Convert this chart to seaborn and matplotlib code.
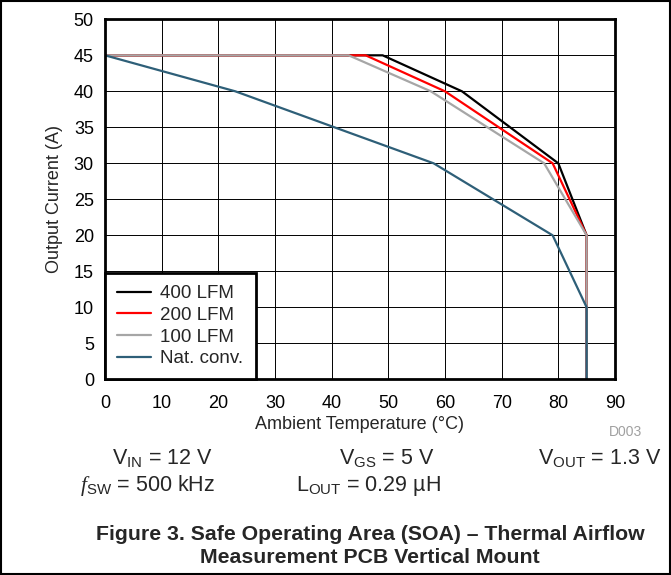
import pandas as pd
import matplotlib
matplotlib.use("Agg")
import matplotlib.pyplot as plt
import seaborn as sns
from matplotlib.patches import Rectangle

# Data
temp_400 = [0, 49, 63, 80, 85, 85]
curr_400 = [45, 45, 40, 30, 20, 0]
temp_200 = [0, 46, 60, 79, 85, 85]
curr_200 = [45, 45, 40, 30, 20, 0]
temp_100 = [0, 43, 57.5, 77.5, 85, 85]
curr_100 = [45, 45, 40, 30, 20, 0]
temp_nat = [0, 23, 58, 79, 85, 85]
curr_nat = [45, 40, 30, 20, 10, 0]

series = ["400 LFM", "200 LFM", "100 LFM", "Nat. conv."]
colors = ["#000000", "#ff0000", "#a6a6a6", "#2e5f78"]

frames = []
for name, t, c in zip(series, [temp_400, temp_200, temp_100, temp_nat],
                      [curr_400, curr_200, curr_100, curr_nat]):
    frames.append(pd.DataFrame({"temp": t, "current": c, "airflow": name}))
df = pd.concat(frames, ignore_index=True)

sns.set_theme(style="white")
plt.rcParams['font.family'] = ['Liberation Sans', 'DejaVu Sans']
plt.rcParams['mathtext.fontset'] = 'custom'
plt.rcParams['mathtext.rm'] = 'Liberation Sans'
plt.rcParams['mathtext.it'] = 'Liberation Serif:italic'

fig = plt.figure(figsize=(6.71, 5.75), dpi=100)
ax = fig.add_axes([0.1565, 0.3403, 0.76, 0.6261])

sns.lineplot(data=df, x="temp", y="current", hue="airflow", hue_order=series,
             palette=colors, sort=False, estimator=None, linewidth=1.6, ax=ax)

ax.set_xlim(0, 90)
ax.set_ylim(0, 50)
ax.set_xticks(range(0, 91, 10))
ax.set_yticks(range(0, 51, 5))
ax.grid(True, color="black", linewidth=0.7)
ax.set_axisbelow(True)
for s in ax.spines.values():
    s.set_color("black")
    s.set_linewidth(2)
ax.tick_params(axis="x", length=0, labelsize=13, colors="black", pad=11)
ax.tick_params(axis="y", length=0, labelsize=13, colors="black", pad=8)
ax.set_xlabel("Ambient Temperature (°C)", fontsize=13, labelpad=3)
ax.set_ylabel("Output Current (A)", fontsize=13, labelpad=8)

leg = ax.legend(loc="lower left", fontsize=13.5, frameon=True, fancybox=False,
                borderaxespad=0, handlelength=1.8, labelspacing=0.24,
                borderpad=0.65, handletextpad=0.5)
leg.get_frame().set_edgecolor("black")
leg.get_frame().set_linewidth(2)
leg.get_frame().set_alpha(1)

# conditions text below the chart
fig.text(626 / 671, 1 - 432 / 575, "D003", fontsize=10, color="#a0a0a0", ha="center", va="center")
fig.text(162 / 671, 1 - 458 / 575, r"V$_\mathregular{IN}$ = 12 V", fontsize=15.5, ha="center", va="center")
fig.text(387 / 671, 1 - 458 / 575, r"V$_\mathregular{GS}$ = 5 V", fontsize=15.5, ha="center", va="center")
fig.text(600 / 671, 1 - 458 / 575, r"V$_\mathregular{OUT}$ = 1.3 V", fontsize=15.5, ha="center", va="center")
fig.text(148 / 671, 1 - 486 / 575, r"$f$$_\mathregular{SW}$ = 500 kHz", fontsize=15.5, ha="center", va="center")
fig.text(368 / 671, 1 - 486 / 575, r"L$_\mathregular{OUT}$ = 0.29 µH", fontsize=15.5, ha="center", va="center")
fig.text(370 / 671, 1 - 546 / 575,
         "Figure 3. Safe Operating Area (SOA) – Thermal Airflow\nMeasurement PCB Vertical Mount",
         fontsize=15.3, fontweight="bold", ha="center", va="center", linespacing=1.25)

# outer border
fig.patches.append(Rectangle((0.002, 0.002), 0.996, 0.996, transform=fig.transFigure,
                             fill=False, edgecolor="black", linewidth=1.5))

fig.savefig("out.png", dpi=100)
